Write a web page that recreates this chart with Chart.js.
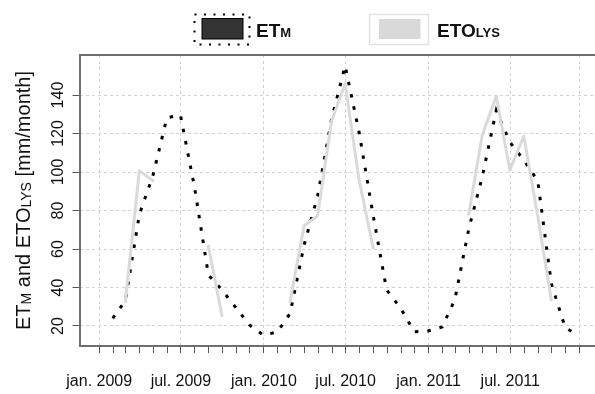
<!DOCTYPE html>
<html>
<head>
<meta charset="utf-8">
<script src="https://cdn.jsdelivr.net/npm/chart.js@4.4.1/dist/chart.umd.min.js"></script>
<style>
  html, body { margin: 0; padding: 0; background: #fff; overflow: hidden; }
  #wrap { width: 610px; height: 394px; }
</style>
</head>
<body>
<div id="wrap"><canvas id="chart" width="610" height="394"></canvas></div>
<script>
// Monthly totals, each dated on the last day of its month
const monthEnds = [
  '2009-01-31','2009-02-28','2009-03-31','2009-04-30','2009-05-31','2009-06-30',
  '2009-07-31','2009-08-31','2009-09-30','2009-10-31','2009-11-30','2009-12-31',
  '2010-01-31','2010-02-28','2010-03-31','2010-04-30','2010-05-31','2010-06-30',
  '2010-07-31','2010-08-31','2010-09-30','2010-10-31','2010-11-30','2010-12-31',
  '2011-01-31','2011-02-28','2011-03-31','2011-04-30','2011-05-31','2011-06-30',
  '2011-07-31','2011-08-31','2011-09-30','2011-10-31','2011-11-30'
];

// ET_M [mm/month]
const etM = [
  24.0, 33.2, 78.0, 98.1, 128.2, 129.6, 92.4, 46.5, 38.7, 29.5, 20.5, 15.2,
  16.9, 26.5, 62.0, 87.5, 127.4, 155.2, 120.6, 77.7, 38.7, 29.3, 17.0, 17.4,
  19.5, 33.5, 70.4, 97.6, 132.0, 115.6, 106.2, 95.3, 42.0, 19.0, 15.2
];

// ETO_LYS [mm/month], null where no lysimeter value exists
const etoLys = [
  null, 32.6, 100.7, 95.5, null, null, null, 61.6, 25.4, null, null, null,
  null, 32.6, 72.1, 77.3, 126.5, 146.0, 95.8, 60.7, null, null, null, null,
  null, null, 78.0, 119.2, 139.5, 101.0, 118.7, 77.0, 33.5, null, null
];

// Axis annotation
const labelDates = ['2009-01-01','2009-07-01','2010-01-01','2010-07-01','2011-01-01','2011-07-01'];
const tickLabels = ['jan. 2009','jul. 2009','jan. 2010','jul. 2010','jan. 2011','jul. 2011'];
const axisStart = '2009-01-01';
const axisEnd = '2011-12-01';
const yTicks = [20, 40, 60, 80, 100, 120, 140];
const yRange = [9.6, 160.8];

const DAY = 864e5;
const day = s => (Date.parse(s + 'T00:00:00Z') - Date.parse(axisStart + 'T00:00:00Z')) / DAY;

// first day of every month on the axis (minor ticks); jan/jul and the last one are major
const tickDays = [];
for (let y = 2009, m = 0; ; m++) {
  if (m === 12) { m = 0; y++; }
  const s = `${y}-${String(m + 1).padStart(2, '0')}-01`;
  tickDays.push(day(s));
  if (s === axisEnd) break;
}
const endDay = day(axisEnd);
const labelDays = labelDates.map(day);
const isMajor = v => labelDays.includes(v) || v === endDay;
const labelFor = v => { const i = labelDays.indexOf(v); return i >= 0 ? tickLabels[i] : ''; };
const span = endDay - day(axisStart);

const toPoints = vals => monthEnds.map((d, i) => ({ x: day(d), y: vals[i] }));

const FONT = '"Liberation Sans", Arial, Helvetica, sans-serif';
Chart.defaults.font.family = FONT;
Chart.defaults.color = '#111';

function runsWidth(ctx, runs) {
  let w = 0;
  for (const [txt, size, weight] of runs) {
    ctx.font = `${weight} ${size}px ${FONT}`;
    w += ctx.measureText(txt).width;
  }
  return w;
}
function drawRuns(ctx, runs, x, y) {
  for (const [txt, size, weight, dy] of runs) {
    ctx.font = `${weight} ${size}px ${FONT}`;
    ctx.fillText(txt, x, y + dy);
    x += ctx.measureText(txt).width;
  }
  return x;
}

// box around the plotting region
const frame = {
  id: 'frame',
  afterDatasetsDraw(chart) {
    const { ctx, chartArea: a } = chart;
    ctx.save();
    ctx.strokeStyle = '#6e6e6e';
    ctx.lineWidth = 2;
    ctx.strokeRect(a.left, a.top, a.right - a.left, a.bottom - a.top);
    ctx.restore();
  }
};

// y-axis title and legend, both with subscripts
const annotations = {
  id: 'annotations',
  afterDraw(chart) {
    const ctx = chart.ctx;
    const a = chart.chartArea;
    ctx.save();
    ctx.fillStyle = '#111';
    ctx.textAlign = 'left';
    ctx.textBaseline = 'alphabetic';
    const title = [
      ['ET', 20, 'normal', 0], ['M', 14, 'normal', 1.5],
      [' and ETO', 20, 'normal', 0], ['LYS', 14, 'normal', 1.5],
      [' [mm/month]', 20, 'normal', 0]
    ];
    const w = runsWidth(ctx, title);
    ctx.translate(29.5, (a.top + a.bottom) / 2);
    ctx.rotate(-Math.PI / 2);
    drawRuns(ctx, title, -w / 2, 0);
    ctx.restore();

    ctx.save();
    // ET_M key: dotted outline around a dark swatch
    ctx.setLineDash([2, 7.5]);
    ctx.lineWidth = 2;
    ctx.strokeStyle = '#000';
    ctx.strokeRect(194.5, 14.5, 55, 30);
    ctx.setLineDash([]);
    ctx.fillStyle = '#333';
    ctx.fillRect(202, 18.5, 41, 20.5);
    ctx.lineWidth = 1;
    ctx.strokeStyle = '#000';
    ctx.strokeRect(202, 18.5, 41, 20.5);
    ctx.fillStyle = '#111';
    drawRuns(ctx, [['ET', 19, 'bold', 0], ['M', 13, 'bold', 0.5]], 256, 36.5);

    // ETO_LYS key: light swatch with a light outline
    ctx.strokeStyle = '#e2e2e2';
    ctx.lineWidth = 1.5;
    ctx.strokeRect(369.5, 14.5, 59, 30);
    ctx.fillStyle = '#d9d9d9';
    ctx.fillRect(379, 19, 41.5, 20);
    ctx.fillStyle = '#111';
    drawRuns(ctx, [['ETO', 19, 'bold', 0], ['LYS', 13, 'bold', 0.5]], 437, 36.5);
    ctx.restore();
  }
};

new Chart(document.getElementById('chart'), {
  type: 'line',
  data: {
    datasets: [
      {
        label: 'ETM',
        data: toPoints(etM),
        borderColor: '#000',
        borderWidth: 3,
        borderDash: [3.5, 9],
        borderCapStyle: 'butt',
        pointRadius: 0,
        tension: 0,
        fill: false,
        order: 2
      },
      {
        label: 'ETOLYS',
        data: toPoints(etoLys),
        borderColor: '#dadada',
        borderWidth: 3,
        borderCapStyle: 'round',
        borderJoinStyle: 'round',
        pointRadius: 0,
        tension: 0,
        spanGaps: false,
        fill: false,
        order: 1
      }
    ]
  },
  options: {
    responsive: false,
    animation: false,
    devicePixelRatio: 1,
    events: [],
    layout: { padding: { top: 55, right: 11.5, bottom: 0, left: 0 } },
    plugins: { legend: { display: false }, tooltip: { enabled: false } },
    scales: {
      x: {
        type: 'linear',
        min: -0.04 * span,
        max: endDay + 0.04 * span,
        afterBuildTicks: s => { s.ticks = tickDays.map(v => ({ value: v })); },
        afterFit: s => { s.height = 48; },
        grid: {
          color: c => (c.tick && isMajor(c.tick.value)) ? '#d2d2d2' : 'rgba(0,0,0,0)',
          lineWidth: 1,
          tickColor: '#555',
          tickLength: 7,
          tickWidth: 1
        },
        border: { display: false, dash: [3, 3] },
        ticks: {
          autoSkip: false,
          minRotation: 0,
          maxRotation: 0,
          padding: 19,
          font: { size: 16 },
          color: '#111',
          callback: v => labelFor(v)
        }
      },
      y: {
        min: yRange[0],
        max: yRange[1],
        afterBuildTicks: s => { s.ticks = yTicks.map(v => ({ value: v })); },
        afterFit: s => { s.width = 80; },
        grid: {
          color: '#d2d2d2',
          lineWidth: 1,
          tickColor: '#555',
          tickLength: 7.5,
          tickWidth: 1
        },
        border: { display: false, dash: [3, 3] },
        ticks: {
          minRotation: 90,
          maxRotation: 90,
          crossAlign: 'center',
          padding: 1,
          font: { size: 16 },
          color: '#111'
        }
      }
    }
  },
  plugins: [frame, annotations]
});
</script>
</body>
</html>
